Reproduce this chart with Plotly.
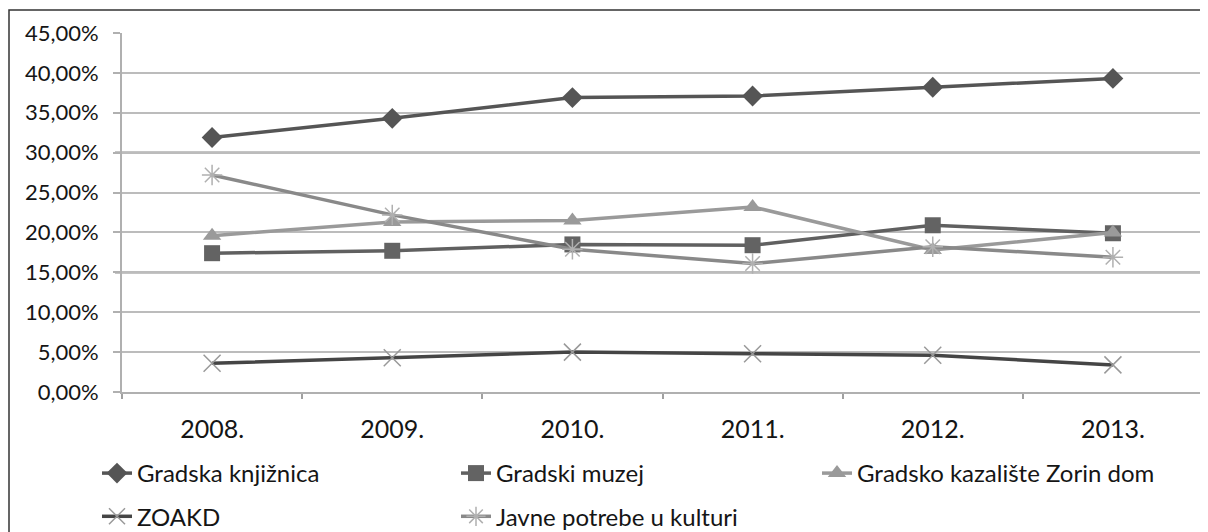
import plotly.graph_objects as go

years = ["2008.", "2009.", "2010.", "2011.", "2012.", "2013."]
knjiznica = [31.9, 34.3, 36.9, 37.1, 38.2, 39.3]
muzej = [17.4, 17.7, 18.5, 18.4, 20.9, 19.9]
kazaliste = [19.6, 21.3, 21.5, 23.2, 17.8, 20.0]
zoakd = [3.6, 4.3, 5.0, 4.8, 4.6, 3.4]
javne = [27.2, 22.2, 17.9, 16.1, 18.2, 16.9]
yticks = [0, 5, 10, 15, 20, 25, 30, 35, 40, 45]
ylabels = [("%.2f%%" % v).replace(".", ",") for v in yticks]
dark_grid = [15, 30]

FONT = "Lato"
OFF = 8  # page body margin
W, H = 1208 - OFF, 532 - OFF
L, R, T, B = 114, 5, 25, 140
pw = W - L - R
ph = H - T - B

def px2x(p):
    return (p - L) / pw

def px2y(p):
    return (H - B - p) / ph

fig = go.Figure()
series = [
    ("Gradska knjižnica", knjiznica, "#555555",
     dict(symbol="diamond", size=16, color="#555555"), "legend"),
    ("Gradski muzej", muzej, "#606060",
     dict(symbol="square", size=16, color="#636363"), "legend2"),
    ("Gradsko kazalište Zorin dom", kazaliste, "#9a9a9a",
     dict(symbol="triangle-up", size=16, color="#9a9a9a"), "legend3"),
    ("ZOAKD", zoakd, "#454545",
     dict(symbol="x-thin-open", size=17, color="#999999", line=dict(width=1.5, color="#999999")), "legend"),
    ("Javne potrebe u kulturi", javne, "#898989",
     dict(symbol="asterisk-open", size=17, color="#b0b0b0", line=dict(width=1.5, color="#b0b0b0")), "legend2"),
]
for name, vals, col, mk, lg in series:
    fig.add_trace(go.Scatter(
        x=years, y=vals, name=name, mode="lines+markers",
        line=dict(color=col, width=3.5), marker=mk, legend=lg,
        legendgroup=name,
    ))

legfont = dict(family=FONT, size=24, color="#151515")
common = dict(orientation="v", yanchor="top", xanchor="left", font=legfont,
              bgcolor="rgba(0,0,0,0)", tracegroupgap=9, itemwidth=30)
fig.update_layout(
    width=W, height=H,
    margin=dict(l=L, r=R, t=T, b=B, autoexpand=False),
    paper_bgcolor="white", plot_bgcolor="white",
    font=dict(family=FONT, size=22, color="#151515"),
    legend=dict(x=px2x(89), y=px2y(443), **common),
    legend2=dict(x=px2x(448), y=px2y(443), **common),
    legend3=dict(x=px2x(809), y=px2y(443), **common),
    showlegend=True,
)
fig.update_xaxes(
    type="category", range=[-0.5, 5.5], showgrid=False, automargin=False,
    showline=True, linecolor="#b0b0b0", linewidth=2,
    ticks="outside", tickson="boundaries", ticklen=5, tickcolor="#a0a0a0", tickwidth=1.5,
    tickfont=dict(family=FONT, size=25, color="#151515"),
    ticklabelstandoff=14,
)
fig.update_yaxes(
    range=[0, 45], tickvals=yticks, ticktext=ylabels, automargin=False,
    showgrid=True, gridcolor="#bcbcbc", gridwidth=2,
    showline=True, linecolor="#b0b0b0", linewidth=2,
    ticks="outside", ticklen=7, tickcolor="#b0b0b0", tickwidth=2,
    tickfont=dict(family=FONT, size=22, color="#151515"),
    ticklabelstandoff=10,
    zeroline=False,
)
for g in dark_grid:
    fig.add_shape(type="line", xref="paper", yref="y", x0=px2x(L - 7), x1=1, y0=g, y1=g,
                  line=dict(color="#8a8a8a", width=2.5), layer="below")
# outer chart border
fig.add_shape(type="rect", xref="paper", yref="paper",
              x0=px2x(1), x1=px2x(1199), y0=px2y(540), y1=px2y(2),
              line=dict(color="#333333", width=1.5), fillcolor="rgba(0,0,0,0)", layer="below")

fig.write_html("out.html")
